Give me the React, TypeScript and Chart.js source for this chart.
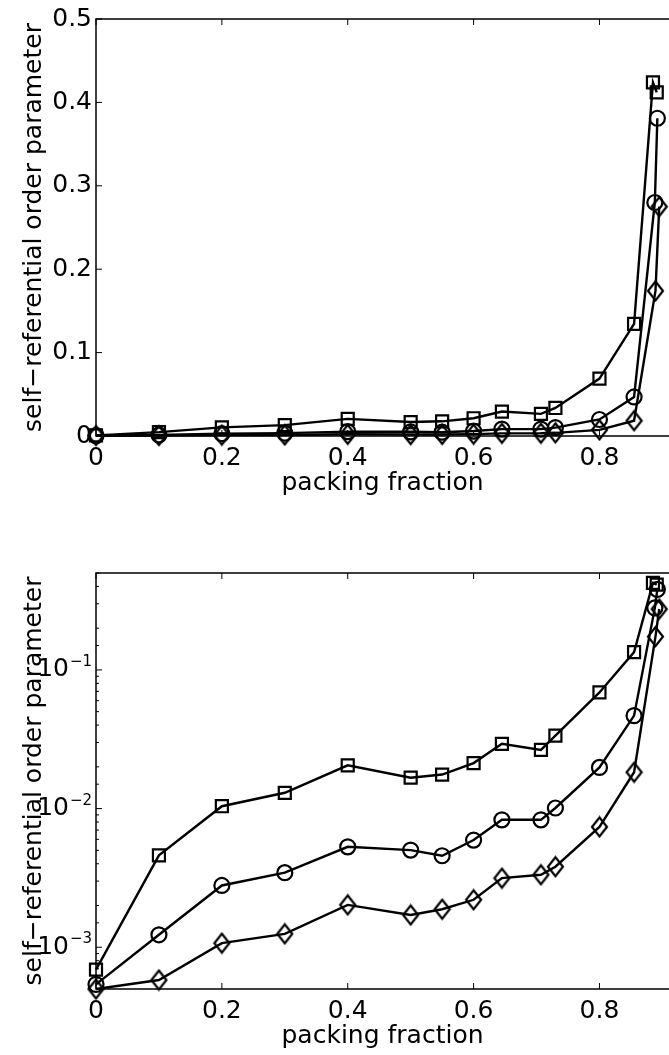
import React, { useEffect, useRef } from "react";
import { Chart, registerables } from "chart.js";

Chart.register(...registerables);

// ---- data ----
const squareX = [0, 0.1, 0.2, 0.3, 0.4, 0.5, 0.55, 0.6, 0.645, 0.707, 0.73, 0.8, 0.855, 0.885, 0.891];
const squareY = [6.9e-4, 4.6e-3, 0.0104, 0.013, 0.0205, 0.0167, 0.0176, 0.0213, 0.0293, 0.0265, 0.0336, 0.0688, 0.1345, 0.424, 0.412];

const circleX = [0, 0.1, 0.2, 0.3, 0.4, 0.5, 0.55, 0.6, 0.645, 0.707, 0.73, 0.8, 0.855, 0.888, 0.892];
const circleY = [5.4e-4, 1.23e-3, 2.79e-3, 3.45e-3, 5.3e-3, 5.02e-3, 4.57e-3, 5.93e-3, 8.3e-3, 8.3e-3, 0.0101, 0.0198, 0.0468, 0.28, 0.381];

const diamondX = [0, 0.1, 0.2, 0.3, 0.4, 0.5, 0.55, 0.6, 0.645, 0.707, 0.73, 0.8, 0.855, 0.889, 0.895];
const diamondY = [5.0e-4, 5.8e-4, 1.07e-3, 1.25e-3, 2.02e-3, 1.71e-3, 1.88e-3, 2.2e-3, 3.15e-3, 3.33e-3, 3.81e-3, 7.38e-3, 0.0183, 0.174, 0.275];

const X_MIN = 0;
const X_MAX = 0.9105;
const X_STEP = 0.2;
const LIN_Y_MIN = 0;
const LIN_Y_MAX = 0.5;
const LIN_Y_STEP = 0.1;
const LOG_Y_MIN = 5e-4;
const LOG_Y_MAX = 0.5;

const X_TITLE = "packing fraction";
const Y_TITLE = "self\u2212referential order parameter";

const FAMILY = "'DejaVu Sans', sans-serif";
const FONT = { family: FAMILY, size: 25 };

function pts(xs: number[], ys: number[]) {
  return xs.map((x, i) => ({ x, y: ys[i] }));
}

function makeDiamond() {
  const c = document.createElement("canvas");
  c.width = 19;
  c.height = 23;
  const g = c.getContext("2d")!;
  g.strokeStyle = "#000";
  g.lineWidth = 2.2;
  g.beginPath();
  g.moveTo(9.5, 2);
  g.lineTo(17, 11.5);
  g.lineTo(9.5, 21);
  g.lineTo(2, 11.5);
  g.closePath();
  g.stroke();
  return c;
}

function isDecade(v: number) {
  const l = Math.log10(v);
  return Math.abs(l - Math.round(l)) < 1e-6;
}

const framePlugin = {
  id: "frame",
  afterDraw(chart: any) {
    const { ctx, chartArea } = chart;
    const { left, right, top, bottom } = chartArea;
    const xs = chart.scales.x;
    const ys = chart.scales.y;
    const isLog = ys.type === "logarithmic";
    ctx.save();
    ctx.strokeStyle = "#000";
    ctx.lineWidth = 1.5;
    ctx.beginPath();
    ctx.moveTo(right + 2, top);
    ctx.lineTo(left, top);
    ctx.lineTo(left, bottom);
    ctx.lineTo(right + 2, bottom);
    ctx.stroke();
    ctx.lineWidth = 1;
    ctx.beginPath();
    xs.ticks.forEach((t: any) => {
      const p = xs.getPixelForValue(t.value);
      ctx.moveTo(p, bottom);
      ctx.lineTo(p, bottom - 6);
      ctx.moveTo(p, top);
      ctx.lineTo(p, top + 6);
    });
    ys.ticks.forEach((t: any) => {
      const p = ys.getPixelForValue(t.value);
      const len = !isLog || isDecade(t.value) ? 6 : 3;
      ctx.moveTo(left, p);
      ctx.lineTo(left + len, p);
    });
    ctx.stroke();
    if (isLog) {
      // exponents of the decade labels "10^n"
      ctx.fillStyle = "#000";
      ctx.font = `15px ${FAMILY}`;
      ctx.textAlign = "left";
      ctx.textBaseline = "alphabetic";
      ys.ticks.forEach((t: any) => {
        if (!isDecade(t.value)) return;
        const p = ys.getPixelForValue(t.value);
        const e = Math.round(Math.log10(t.value));
        const s = (e < 0 ? "\u2212" : "") + String(Math.abs(e));
        ctx.fillText(s, left - 26, p - 4);
      });
    }
    ctx.restore();
  },
};

function buildConfig(log: boolean, padTop: number): any {
  const diamond = makeDiamond();
  const common = {
    borderColor: "#000",
    borderWidth: 2.4,
    pointBorderColor: "#000",
    pointBackgroundColor: "rgba(0,0,0,0)",
    pointBorderWidth: 2.2,
    showLine: true,
    tension: 0,
    clip: false,
  };
  const yTitle = { display: true, text: Y_TITLE, color: "#000", font: FONT, padding: { top: 19, bottom: 0 } };
  const yFit = (s: any) => {
    s.width = 96;
    s.paddingTop = 0;
    s.paddingBottom = 0;
  };
  return {
    type: "scatter",
    data: {
      datasets: [
        { ...common, data: pts(squareX, squareY), pointStyle: "rect", pointRadius: 8.5 },
        { ...common, data: pts(circleX, circleY), pointStyle: "circle", pointRadius: 7.5 },
        { ...common, data: pts(diamondX, diamondY), pointStyle: diamond, pointRadius: 9 },
      ],
    },
    options: {
      animation: false,
      responsive: false,
      events: [],
      layout: { autoPadding: false, padding: { top: padTop, left: 0, right: 0, bottom: 0 } },
      plugins: { legend: { display: false }, tooltip: { enabled: false } },
      scales: {
        x: {
          type: "linear",
          min: X_MIN,
          max: X_MAX,
          grid: { display: false, drawTicks: false },
          border: { display: false },
          ticks: {
            stepSize: X_STEP,
            includeBounds: false,
            autoSkip: false,
            maxRotation: 0,
            padding: 7,
            color: "#000",
            font: FONT,
            callback: (v: number) => (v === 0 ? "0" : String(Math.round(v * 10) / 10)),
          },
          title: { display: true, text: X_TITLE, color: "#000", font: FONT, padding: { top: 0, bottom: 4 } },
          afterFit: (s: any) => {
            s.height = 66;
            s.paddingLeft = 0;
            s.paddingRight = 0;
          },
        },
        y: log
          ? {
              type: "logarithmic",
              min: LOG_Y_MIN,
              max: LOG_Y_MAX,
              grid: { display: false, drawTicks: false },
              border: { display: false },
              ticks: {
                autoSkip: false,
                padding: 27,
                color: "#000",
                font: FONT,
                callback: (v: number) => (isDecade(v) ? "10" : ""),
              },
              title: yTitle,
              afterFit: yFit,
            }
          : {
              type: "linear",
              min: LIN_Y_MIN,
              max: LIN_Y_MAX,
              grid: { display: false, drawTicks: false },
              border: { display: false },
              ticks: {
                stepSize: LIN_Y_STEP,
                autoSkip: false,
                padding: 4,
                color: "#000",
                font: FONT,
                callback: (v: number) => (v === 0 ? "0" : String(Math.round(v * 10) / 10)),
              },
              title: yTitle,
              afterFit: yFit,
            },
      },
    },
    plugins: [framePlugin],
  };
}

export default function App() {
  const topRef = useRef<HTMLCanvasElement>(null);
  const botRef = useRef<HTMLCanvasElement>(null);

  useEffect(() => {
    Chart.defaults.font.family = FAMILY;
    Chart.defaults.color = "#000";
    const c1 = new Chart(topRef.current!, buildConfig(false, 19));
    const c2 = new Chart(botRef.current!, buildConfig(true, 50));
    return () => {
      c1.destroy();
      c2.destroy();
    };
  }, []);

  return (
    <div style={{ position: "absolute", left: 0, top: 0, width: 669, height: 1055, background: "#fff", overflow: "hidden" }}>
      <canvas
        ref={topRef}
        width={669}
        height={502}
        style={{ position: "absolute", left: 0, top: 0, width: 669, height: 502 }}
      />
      <canvas
        ref={botRef}
        width={669}
        height={532}
        style={{ position: "absolute", left: 0, top: 523, width: 669, height: 532 }}
      />
    </div>
  );
}
